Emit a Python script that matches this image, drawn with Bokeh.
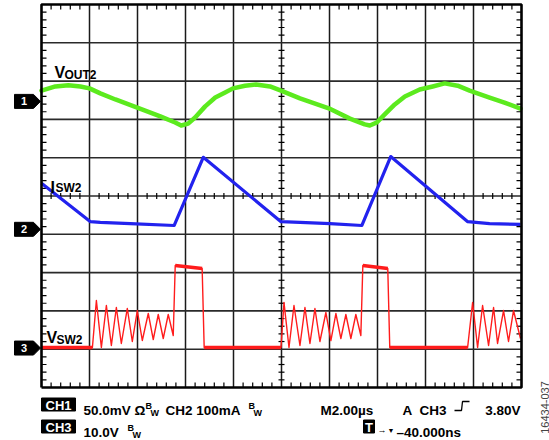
import numpy as np
from bokeh.plotting import figure
from bokeh.models import Range1d
from bokeh.embed import file_html
from bokeh.resources import INLINE
from bokeh.core.properties import value

# ---------------- data (time in µs, 2 µs/div; level in screen divisions, 0 = bottom) -------------
vout2_t = [0.00, 0.58, 1.12, 1.62, 2.00, 2.45, 3.08, 3.99, 4.95, 5.57, 5.82, 6.11, 6.40, 6.82,
           7.24, 7.65, 7.98, 8.48, 8.94, 9.52, 9.98, 10.77, 11.97, 12.85, 13.47, 13.68, 13.97,
           14.30, 14.72, 15.14, 15.76, 16.30, 16.80, 17.34, 17.84, 18.67, 19.29, 19.96]
vout2_div = [7.75, 7.86, 7.89, 7.86, 7.81, 7.68, 7.52, 7.31, 7.08, 6.92, 6.84, 6.89, 7.05, 7.34,
             7.57, 7.70, 7.81, 7.88, 7.91, 7.86, 7.75, 7.55, 7.29, 7.02, 6.87, 6.84, 6.92,
             7.13, 7.39, 7.60, 7.78, 7.86, 7.94, 7.88, 7.75, 7.57, 7.44, 7.28]

isw2_t = [0.00, 2.04, 2.45, 3.70, 5.53, 6.74, 9.98, 10.77, 12.02, 13.35, 14.55, 17.76, 18.67, 19.96]
isw2_div = [5.33, 4.33, 4.31, 4.28, 4.23, 6.01, 4.33, 4.31, 4.28, 4.23, 6.03, 4.33, 4.28, 4.26]

vsw2_t = [0.000, 2.121, 2.287, 2.495, 2.703, 2.911, 3.119, 3.326, 3.576, 3.784, 3.992, 4.200,
          4.449, 4.657, 4.865, 5.073, 5.281, 5.489, 5.572, 6.694, 6.778, 9.979, 10.104, 10.312,
          10.520, 10.769, 10.977, 11.185, 11.393, 11.601, 11.850, 12.058, 12.266, 12.474, 12.682,
          12.890, 13.098, 13.306, 13.389, 14.428, 14.511, 17.755, 17.963, 18.171, 18.379, 18.628,
          18.836, 19.002, 19.252, 19.459, 19.667, 19.958]
vsw2_div = [1.044, 1.044, 2.272, 1.044, 2.141, 1.097, 2.089, 1.149, 2.063, 1.201, 2.010, 1.227,
            1.932, 1.253, 1.906, 1.279, 1.906, 1.358, 3.185, 3.107, 1.044, 1.044, 2.219, 1.044,
            2.141, 1.097, 2.089, 1.149, 2.063, 1.201, 1.958, 1.227, 1.932, 1.279, 1.906,
            1.279, 1.906, 1.358, 3.185, 3.107, 1.044, 1.044, 2.219, 1.044, 2.141, 1.097,
            2.089, 1.149, 2.010, 1.201, 2.010, 1.279]

channel_ids = ["1", "2", "3"]
channel_ground_div = [7.47, 4.13, 1.03]

status_line1 = ["50.0mV \u03a9", "CH2 100mA", "M2.00\u00b5s", "A", "CH3", "3.80V"]
status_line2 = ["10.0V", "\u201340.000ns"]
figure_id = "16434-037"

# ---------------- geometry -------------
W, H = 549, 440
X0, XPX = 41, 48.0 / 2.0   # canvas x of t=0, px per µs
Y0, YPX = 387, 38.3        # canvas y of level 0, px per division
NX, NY = 10, 10
TDIV = 2.0

def pt(px):   # canvas x -> µs
    return (px - X0) / XPX

def pd(py):   # canvas y -> divisions
    return (Y0 - py) / YPX

GREEN, BLUE, RED = "#5CEA1E", "#2222EE", "#FF1C1C"
FONT = value("Liberation Sans")

p = figure(width=W, height=H, output_backend="svg", toolbar_location=None, title=None,
           x_range=Range1d(-X0 / XPX, (W - X0) / XPX),
           y_range=Range1d(-(H - Y0) / YPX, Y0 / YPX),
           x_axis_type=None, y_axis_type=None, min_border=0, outline_line_color=None)
p.background_fill_color = "white"
p.border_fill_color = "white"

TMAX = NX * TDIV
# grid
gx = [i * TDIV for i in range(1, NX)]
gy = list(range(1, NY))
p.segment(x0=gx, y0=[0] * len(gx), x1=gx, y1=[NY] * len(gx), line_color="#1a1a1a", line_width=1.5)
p.segment(x0=[0] * len(gy), y0=gy, x1=[TMAX] * len(gy), y1=gy, line_color="#2a2a2a", line_width=1.6)

# minor ticks
mx = [v for v in np.round(np.arange(0, TMAX + 1e-6, TDIV / 5), 3) if abs(v / TDIV - round(v / TDIV)) > 1e-6]
my = [v for v in np.round(np.arange(0, NY + 1e-6, 0.2), 3) if abs(v - round(v)) > 1e-6]
hl, vl = 5 / XPX, 5 / YPX
hc, vc = 3 / XPX, 3 / YPX
tk = dict(line_color="black", line_width=1.2)
p.segment(x0=[0] * len(my), y0=my, x1=[hl] * len(my), y1=my, **tk)
p.segment(x0=[TMAX - hl] * len(my), y0=my, x1=[TMAX] * len(my), y1=my, **tk)
p.segment(x0=[TMAX / 2 - hc] * len(my), y0=my, x1=[TMAX / 2 + hc] * len(my), y1=my, **tk)
p.segment(x0=mx, y0=[0] * len(mx), x1=mx, y1=[vl] * len(mx), **tk)
p.segment(x0=mx, y0=[NY - vl] * len(mx), x1=mx, y1=[NY] * len(mx), **tk)
p.segment(x0=mx, y0=[NY / 2 - vc] * len(mx), x1=mx, y1=[NY / 2 + vc] * len(mx), **tk)

# traces
p.line(vout2_t, vout2_div, line_color=GREEN, line_width=4.5, line_join="round", line_cap="round")
p.line(isw2_t, isw2_div, line_color=BLUE, line_width=3.2, line_join="round")
p.line(vsw2_t, vsw2_div, line_color=RED, line_width=1.4, line_join="round")
fx, fy = [], []
for i in range(len(vsw2_t) - 1):
    if vsw2_t[i + 1] - vsw2_t[i] > 0.5 and abs(vsw2_div[i + 1] - vsw2_div[i]) < 0.2:
        fx.append([vsw2_t[i], vsw2_t[i + 1]])
        fy.append([vsw2_div[i], vsw2_div[i + 1]])
p.multi_line(fx, fy, line_color=RED, line_width=3.6)

# frame
p.line([0, TMAX, TMAX, 0, 0], [0, 0, NY, NY, 0], line_color="black", line_width=2.6)

# channel markers
hh = 7 / YPX
for cid, g in zip(channel_ids, channel_ground_div):
    p.patch([pt(14), pt(33), pt(40), pt(33), pt(14)], [g + hh, g + hh, g, g - hh, g - hh],
            fill_color="black", line_color="black")
p.text(x=[pt(23.5)] * 3, y=channel_ground_div, text=channel_ids, text_color="white",
       text_font=FONT, text_font_style="bold", text_font_size="11px",
       text_align="center", text_baseline="middle")

# labels
def lab(x, y, t, size, col="black", align="left", style="bold", angle=0.0, base="alphabetic"):
    p.text(x=[x], y=[y], text=[t], text_font=FONT, text_font_style=style, text_font_size=size,
           text_color=col, text_align=align, text_baseline=base, angle=angle)

lab(pt(54), 8.22, "V", "16px")
lab(pt(64), 8.17, "OUT2", "12px")
lab(pt(50), 5.22, "I", "16px")
lab(pt(55), 5.20, "SW2", "12px")
lab(pt(46), 1.31, "V", "16px")
lab(pt(56), 1.23, "SW2", "12px")

# status lines
def box(x0, x1, y0, y1, t):
    p.quad(left=[pt(x0)], right=[pt(x1)], top=[pd(y0)], bottom=[pd(y1)],
           fill_color="black", line_color="black")
    lab(pt((x0 + x1) / 2), pd((y0 + y1) / 2 + 0.5), t, "13px", col="white", align="center",
        base="middle")

FS = "13.5px"
SS = "9px"
b1, b2 = 410, 432
box(41, 75, 397.5, 410.5, "CH1")
lab(pt(83), pd(b1), status_line1[0], FS)
lab(pt(145), pd(b1 - 5), "B", SS)
lab(pt(150), pd(b1 + 2), "W", SS)
lab(pt(165), pd(b1), status_line1[1], FS)
lab(pt(248), pd(b1 - 5), "B", SS)
lab(pt(253), pd(b1 + 2), "W", SS)
lab(pt(320), pd(b1), status_line1[2], FS)
lab(pt(402), pd(b1), status_line1[3], FS)
lab(pt(419), pd(b1), status_line1[4], FS)
p.line([pt(454), pt(461), pt(462), pt(469)], [pd(b1), pd(b1), pd(b1 - 9), pd(b1 - 9)],
       line_color="black", line_width=1.3)
lab(pt(520), pd(b1), status_line1[5], FS, align="right")

box(41, 75, 419.5, 432.5, "CH3")
lab(pt(83), pd(b2), status_line2[0], FS)
lab(pt(127), pd(b2 - 5), "B", SS)
lab(pt(132), pd(b2 + 2), "W", SS)
box(363, 374, 419.5, 432.5, "T")
lab(pt(377), pd(b2 - 3), "\u2192", "9px", style="normal")
lab(pt(387), pd(b2 - 2), "\u25bc", "7px", style="normal")
lab(pt(396), pd(b2), status_line2[1], FS)

lab(pt(544), pd(407), figure_id, "11px", col="#444444", align="center", style="normal",
    angle=np.pi / 2, base="middle")

open("out.html", "w").write(file_html(p, INLINE))
